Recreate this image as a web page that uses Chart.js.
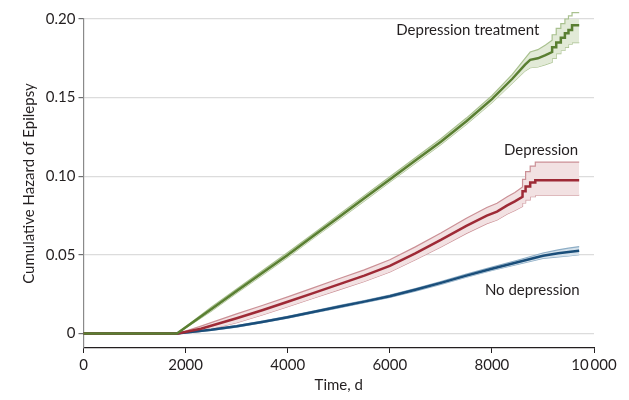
<!DOCTYPE html>
<html>
<head>
<meta charset="utf-8">
<script src="https://cdn.jsdelivr.net/npm/chart.js@4"></script>
<style>
  html, body { margin: 0; padding: 0; background: #fff; }
  #wrap { width: 629px; height: 400px; }
</style>
</head>
<body>
<div id="wrap"><canvas id="chart"></canvas></div>
<script>
// Axis ticks
const xTicks = [0, 2000, 4000, 6000, 8000, 10000];
const xTickLabels = ['0', '2000', '4000', '6000', '8000', '10\u2009000'];
const yTicks = [0, 0.05, 0.10, 0.15, 0.20];
const yTickLabels = ['0', '0.05', '0.10', '0.15', '0.20'];

// Depression treatment
const greenDays = [0, 1830, 2500, 3000, 3500, 4000, 4500, 5000, 5500, 6000, 6500, 7000, 7500, 8000, 8400, 8650, 8750, 8900, 9050, 9180, 9180, 9260, 9260, 9350, 9350, 9430, 9430, 9500, 9500, 9570, 9570, 9710];
const greenMid = [0, 0, 0.0155, 0.027, 0.0385, 0.050, 0.062, 0.074, 0.086, 0.098, 0.110, 0.122, 0.135, 0.149, 0.162, 0.171, 0.174, 0.175, 0.177, 0.179, 0.182, 0.182, 0.185, 0.185, 0.188, 0.188, 0.191, 0.191, 0.193, 0.193, 0.196, 0.196];
const greenHi = [0, 0, 0.0168, 0.0283, 0.0399, 0.0515, 0.0635, 0.0756, 0.0877, 0.0997, 0.1118, 0.1238, 0.1370, 0.1512, 0.1648, 0.1750, 0.179, 0.1805, 0.1835, 0.1865, 0.190, 0.190, 0.194, 0.194, 0.197, 0.197, 0.200, 0.200, 0.202, 0.202, 0.204, 0.204];
const greenLo = [0, 0, 0.0142, 0.0257, 0.0371, 0.0485, 0.0605, 0.0724, 0.0843, 0.0963, 0.1082, 0.1202, 0.1330, 0.1468, 0.1592, 0.1670, 0.169, 0.1695, 0.171, 0.1725, 0.175, 0.175, 0.178, 0.178, 0.180, 0.180, 0.182, 0.182, 0.184, 0.184, 0.185, 0.185];

// Depression
const redDays = [0, 1850, 2300, 3000, 3500, 4000, 4500, 5000, 5500, 6000, 6500, 7000, 7500, 7900, 8100, 8300, 8450, 8600, 8600, 8660, 8660, 8750, 8750, 8850, 8850, 9710];
const redMid = [0, 0, 0.003, 0.0097, 0.0148, 0.0202, 0.0257, 0.0313, 0.0368, 0.0430, 0.0510, 0.0595, 0.0685, 0.0750, 0.0775, 0.0815, 0.0840, 0.0870, 0.0905, 0.0905, 0.0935, 0.0935, 0.0960, 0.0960, 0.0975, 0.0975];
const redHi = [0, 0, 0.0047, 0.0125, 0.0178, 0.0233, 0.0290, 0.0348, 0.0405, 0.0469, 0.0551, 0.0639, 0.0733, 0.0801, 0.0828, 0.0870, 0.0897, 0.0932, 0.0980, 0.0980, 0.1030, 0.1030, 0.1065, 0.1065, 0.1090, 0.1090];
const redLo = [0, 0, 0.0013, 0.0069, 0.0118, 0.0171, 0.0224, 0.0278, 0.0331, 0.0391, 0.0469, 0.0551, 0.0637, 0.0699, 0.0722, 0.0760, 0.0783, 0.0808, 0.0830, 0.0830, 0.0850, 0.0850, 0.0870, 0.0870, 0.0880, 0.0880];

// No depression
const blueDays = [0, 1830, 2000, 2500, 3000, 3500, 4000, 4500, 5000, 5500, 6000, 6500, 7000, 7500, 8000, 8500, 9000, 9300, 9500, 9710];
const blueMid = [0, 0, 0.0006, 0.0024, 0.0046, 0.0074, 0.0104, 0.0137, 0.0170, 0.0203, 0.0237, 0.0278, 0.0322, 0.0368, 0.0412, 0.0453, 0.0495, 0.0510, 0.0518, 0.0527];
const blueHi = [0, 0, 0.0009, 0.0028, 0.0051, 0.0079, 0.0110, 0.0143, 0.0177, 0.0210, 0.0245, 0.0286, 0.0331, 0.0378, 0.0423, 0.0466, 0.0512, 0.0532, 0.0543, 0.0553];
const blueLo = [0, 0, 0.0003, 0.0020, 0.0041, 0.0069, 0.0098, 0.0131, 0.0163, 0.0196, 0.0229, 0.0270, 0.0313, 0.0358, 0.0401, 0.0440, 0.0478, 0.0488, 0.0493, 0.0501];

// Curve labels (data coordinates, right-aligned)
const labelText = ['Depression treatment', 'Depression', 'No depression'];
const labelX = [8930, 9690, 9720];
const labelY = [0.193, 0.1165, 0.0275];

const FONT = "Lato, 'Open Sans', sans-serif";
const FSIZE = 15;

function pts(days, vals) {
    return days.map((d, i) => ({x: d, y: vals[i]}));
}

function line(days, vals, color) {
    return {
        data: pts(days, vals),
        borderColor: color,
        borderWidth: 2.5,
        pointRadius: 0,
        fill: false,
        tension: 0,
        clip: false
    };
}

function band(days, vals, edge, fillColor, fillTo) {
    return {
        data: pts(days, vals),
        borderColor: edge,
        borderWidth: 1.2,
        pointRadius: 0,
        backgroundColor: fillColor,
        fill: fillTo,
        tension: 0,
        clip: false
    };
}

const curveLabels = {
    id: 'curveLabels',
    afterDatasetsDraw(chart) {
        const ctx = chart.ctx;
        const xs = chart.scales.x, ys = chart.scales.y;
        ctx.save();
        ctx.font = FSIZE + 'px ' + FONT;
        ctx.fillStyle = '#231f20';
        ctx.textAlign = 'right';
        ctx.textBaseline = 'middle';
        labelText.forEach((t, i) => {
            ctx.fillText(t, xs.getPixelForValue(labelX[i]), ys.getPixelForValue(labelY[i]));
        });
        ctx.restore();
    }
};

new Chart(document.getElementById('chart').getContext('2d'), {
    type: 'line',
    data: {
        datasets: [
            line(greenDays, greenMid, '#5a7f32'),
            line(redDays, redMid, '#9e2a36'),
            line(blueDays, blueMid, '#1a4e7a'),
            band(greenDays, greenHi, '#a9c18f', '#e2ead7', '+1'),
            band(greenDays, greenLo, '#a9c18f', 'transparent', false),
            band(redDays, redHi, '#cb9096', '#f2e1e2', '+1'),
            band(redDays, redLo, '#cb9096', 'transparent', false),
            band(blueDays, blueHi, '#8eaec6', '#d5e2ec', '+1'),
            band(blueDays, blueLo, '#8eaec6', 'transparent', false)
        ]
    },
    options: {
        responsive: true,
        maintainAspectRatio: false,
        animation: false,
        layout: {
            padding: {top: 19, right: 35, bottom: 0, left: 0}
        },
        plugins: {
            legend: {display: false},
            tooltip: {enabled: false}
        },
        scales: {
            x: {
                type: 'linear',
                min: 0,
                max: 10000,
                afterBuildTicks: axis => { axis.ticks = xTicks.map(v => ({value: v})); },
                afterFit: scale => { scale.height = 52; },
                ticks: {
                    color: '#231f20',
                    font: {family: FONT, size: FSIZE},
                    padding: 3,
                    maxRotation: 0,
                    callback: (value, index) => xTickLabels[index]
                },
                grid: {
                    drawOnChartArea: false,
                    drawTicks: true,
                    tickLength: 5,
                    tickColor: '#231f20'
                },
                border: {color: '#231f20', width: 1.2},
                title: {
                    display: true,
                    text: 'Time, d',
                    color: '#231f20',
                    font: {family: FONT, size: FSIZE},
                    padding: {top: 0, bottom: 6}
                }
            },
            y: {
                min: -0.0092,
                max: 0.2,
                afterBuildTicks: axis => { axis.ticks = yTicks.map(v => ({value: v})); },
                afterFit: scale => { scale.width = 83.5; },
                ticks: {
                    color: '#231f20',
                    font: {family: FONT, size: FSIZE},
                    padding: 3,
                    callback: (value, index) => yTickLabels[index]
                },
                grid: {
                    color: '#dcdcdc',
                    lineWidth: 1.2,
                    tickLength: 5,
                    tickColor: '#6d6e70'
                },
                border: {color: '#8a8a8a', width: 1.2},
                title: {
                    display: true,
                    text: 'Cumulative Hazard of Epilepsy',
                    color: '#231f20',
                    font: {family: FONT, size: FSIZE},
                    padding: {top: 20, bottom: 0}
                }
            }
        }
    },
    plugins: [curveLabels]
});
</script>
</body>
</html>
